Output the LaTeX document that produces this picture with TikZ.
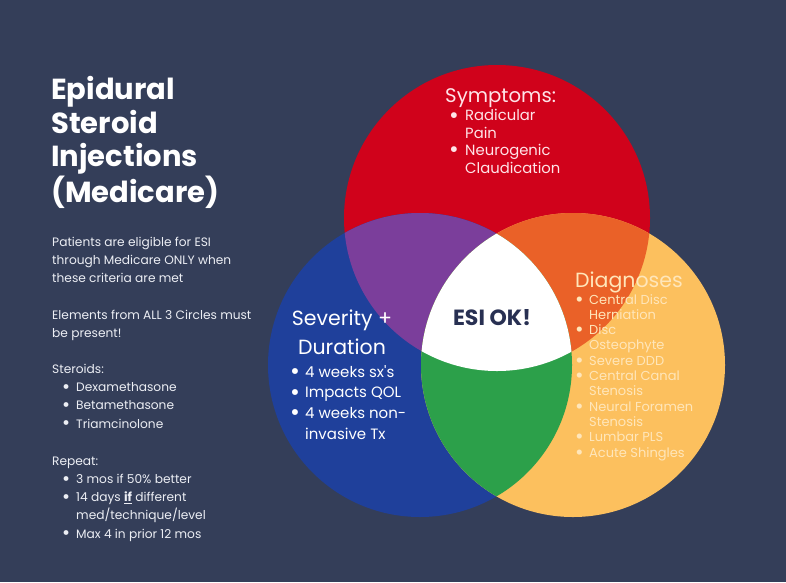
\documentclass[tikz,border=0pt]{standalone}
\usepackage{fontspec}
\usepackage{graphicx}
\setmainfont{Poppins}
\definecolor{bgc}{RGB}{52,62,89}
\definecolor{redc}{RGB}{208,2,27}
\definecolor{bluec}{RGB}{31,64,155}
\definecolor{yelc}{RGB}{252,192,94}
\definecolor{purc}{RGB}{123,62,155}
\definecolor{orc}{RGB}{234,97,40}
\definecolor{grc}{RGB}{44,160,74}
\definecolor{esic}{RGB}{40,48,82}
\definecolor{bodyc}{RGB}{236,238,244}
\definecolor{symc}{RGB}{255,228,232}
\definecolor{diac}{RGB}{255,230,186}
\newcommand{\bl}[1]{\makebox[#1][l]{\raisebox{-0.28ex}{\scalebox{1.6}{\textbullet}}}}
\tikzset{
  txt/.style={inner sep=0pt, anchor=base west, align=left},
}
\begin{document}
\begin{tikzpicture}[x=1pt,y=-1pt]
\fill[bgc] (0,0) rectangle (786,582);
\useasboundingbox (0,0) rectangle (786,582);
\coordinate (R) at (497,218);
\coordinate (B) at (420,365);
\coordinate (Y) at (573,365);
\fill[redc] (R) circle[radius=153pt];
\fill[bluec] (B) circle[radius=152pt];
\fill[yelc] (Y) circle[radius=152pt];
\begin{scope}
  \clip (R) circle[radius=153pt];
  \fill[purc] (B) circle[radius=152pt];
  \fill[orc] (Y) circle[radius=152pt];
\end{scope}
\begin{scope}
  \clip (B) circle[radius=152pt];
  \fill[grc] (Y) circle[radius=152pt];
\end{scope}
\begin{scope}
  \clip (R) circle[radius=153pt];
  \clip (B) circle[radius=152pt];
  \fill[white] (Y) circle[radius=152pt];
\end{scope}

% title (anchor = baseline of last line)
\node[txt, text=white, font=\fontsize{29}{33.5}\selectfont\bfseries] (title) at (51,202)
  {Epidural\\Steroid\\Injections\\(Medicare)};

% left body
\node[txt, text=bodyc, font=\fontsize{12.2}{18.2}\selectfont] (body) at (52,538)
  {Patients are eligible for ESI\\
   through Medicare ONLY when\\
   these criteria are met\\[18pt]
   Elements from ALL 3 Circles must\\
   be present!\\[18pt]
   Steroids:\\
   \hspace{10pt}\bl{14pt}Dexamethasone\\
   \hspace{10pt}\bl{14pt}Betamethasone\\
   \hspace{10pt}\bl{14pt}Triamcinolone\\[19pt]
   Repeat:\\
   \hspace{10pt}\bl{14pt}3 mos if 50\% better\\
   \hspace{10pt}\bl{14pt}14 days \underline{\textbf{if}} different\\
   \hspace{24pt}med/technique/level\\
   \hspace{10pt}\bl{14pt}Max 4 in prior 12 mos};

% symptoms
\node[txt, text=symc, font=\fontsize{19.7}{20}\selectfont] (symh) at (445,102) {Symptoms:};
\node[txt, text=symc, font=\fontsize{14.8}{17.4}\selectfont] (syml) at (449,173)
  {\bl{16pt}Radicular\\
   \hspace{16pt}Pain\\
   \bl{16pt}Neurogenic\\
   \hspace{16pt}Claudication};

% severity
\node[text=white, font=\fontsize{20.5}{29}\selectfont, inner sep=0pt, align=center, anchor=base] (sevh) at (342,354)
  {Severity +\\Duration};
\node[txt, text=white, font=\fontsize{15}{20.6}\selectfont] (sevl) at (290,439)
  {\bl{15pt}4 weeks sx\textquotesingle s\\
   \bl{15pt}Impacts QOL\\
   \bl{15pt}4 weeks non-\\
   \hspace{15pt}invasive Tx};

% center
\node[text=esic, font=\fontsize{22}{24}\selectfont\bfseries, inner sep=0pt, anchor=base] (esi) at (492,325) {ESI OK!};

% diagnoses
\node[txt, text=diac, font=\fontsize{20.5}{22}\selectfont] (diah) at (575,287) {Diagnoses};
\node[txt, text=diac, font=\fontsize{13}{15.3}\selectfont] (dial) at (575,457)
  {\bl{14pt}Central Disc\\
   \hspace{14pt}Herniation\\
   \bl{14pt}Disc\\
   \hspace{14pt}Osteophyte\\
   \bl{14pt}Severe DDD\\
   \bl{14pt}Central Canal\\
   \hspace{14pt}Stenosis\\
   \bl{14pt}Neural Foramen\\
   \hspace{14pt}Stenosis\\
   \bl{14pt}Lumbar PLS\\
   \bl{14pt}Acute Shingles};
\end{tikzpicture}
\end{document}
